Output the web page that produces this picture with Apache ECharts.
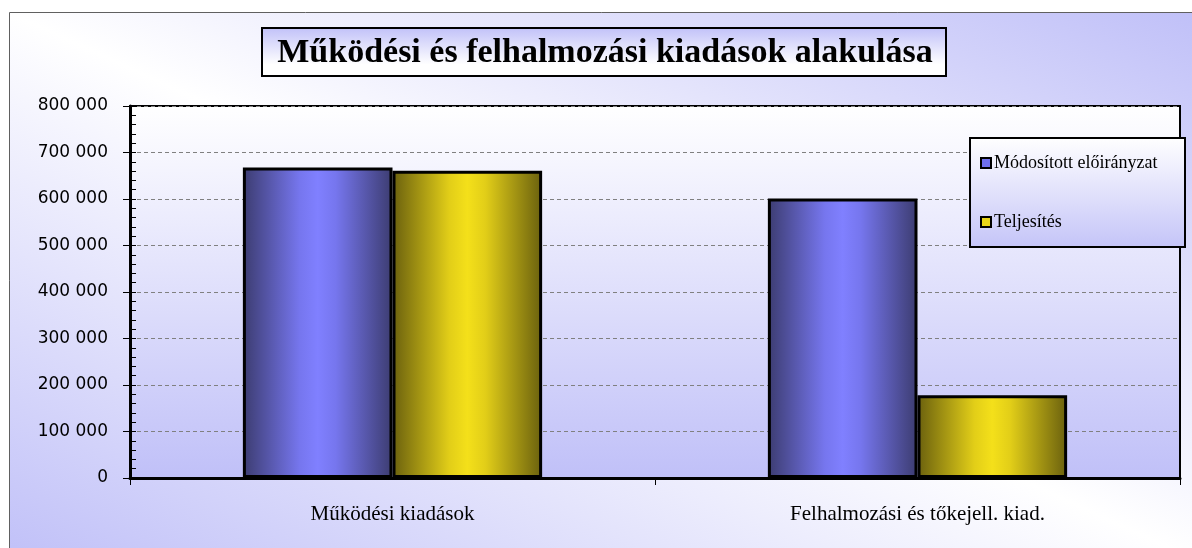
<!DOCTYPE html>
<html>
<head>
<meta charset="utf-8">
<script src="https://cdn.jsdelivr.net/npm/echarts@6/dist/echarts.min.js"></script>
<style>
html,body{margin:0;padding:0;background:#fff;}
#chart{width:1192px;height:548px;}
</style>
</head>
<body>
<div id="chart"></div>
<script>
const titleText = 'Működési és felhalmozási kiadások alakulása';
const categories = ['Működési kiadások', 'Felhalmozási és tőkejell. kiad.'];
const seriesNames = ['Módosított előirányzat', 'Teljesítés'];
const modositott = [668000, 601000];
const teljesites = [661000, 178000];
const yTicks = [0, 100000, 200000, 300000, 400000, 500000, 600000, 700000, 800000];

function grad(edge, mid, center) {
  return {
    type: 'linear', x: 0, y: 0, x2: 1, y2: 0,
    colorStops: [
      {offset: 0, color: edge},
      {offset: 0.38, color: mid},
      {offset: 0.5, color: center},
      {offset: 0.62, color: mid},
      {offset: 1, color: edge}
    ]
  };
}
const blueGrad = grad('#3c3c70', '#7676ee', '#8080ff');
const yellowGrad = grad('#6a600e', '#e2ce18', '#f4e01a');

const fmt = v => String(v).replace(/\B(?=(\d{3})+(?!\d))/g, ' ');

const chart = echarts.init(document.getElementById('chart'));
chart.setOption({
  animation: false,
  graphic: [
    {
      type: 'rect', z: -100, silent: true,
      shape: {x: 9.5, y: 12.5, width: 1195, height: 550},
      style: {
        fill: {type: 'linear', global: true, x: 813, y: -166, x2: 395, y2: 740,
          colorStops: [{offset: 0, color: '#c0c0f8'}, {offset: 0.5, color: '#ffffff'}, {offset: 1, color: '#c0c0f8'}]},
        stroke: '#606060', lineWidth: 1
      }
    },
    {
      type: 'rect', z: 10, silent: true,
      shape: {x: 262, y: 28, width: 684, height: 48},
      style: {
        fill: {type: 'linear', x: 0, y: 0, x2: 0, y2: 1,
          colorStops: [{offset: 0, color: '#c0c0f8'}, {offset: 0.75, color: '#ffffff'}, {offset: 1, color: '#ffffff'}]},
        stroke: '#000', lineWidth: 2
      }
    },
    {
      type: 'text', z: 11, silent: true,
      x: 605, y: 53,
      style: {
        text: titleText, fill: '#000',
        font: 'bold 34px "Liberation Serif", serif',
        textAlign: 'center', textVerticalAlign: 'middle'
      }
    },
    {
      type: 'rect', z: 3, silent: true,
      shape: {x: 970, y: 138, width: 215, height: 109},
      style: {
        fill: {type: 'linear', x: 0, y: 0, x2: 0, y2: 1,
          colorStops: [{offset: 0, color: '#ffffff'}, {offset: 1, color: '#c4c4f8'}]},
        stroke: '#000', lineWidth: 2
      }
    }
  ],
  legend: {
    orient: 'vertical', left: 980, top: 153, padding: 0,
    itemWidth: 10, itemHeight: 10, itemGap: 39, z: 5,
    icon: 'rect',
    textStyle: {fontFamily: '"Liberation Serif", serif', fontSize: 18, color: '#000', lineHeight: 20, padding: [0, 0, 0, -2]},
    data: [
      {name: seriesNames[0], itemStyle: {color: '#7070ee', borderColor: '#000', borderWidth: 2}},
      {name: seriesNames[1], itemStyle: {color: '#e8d418', borderColor: '#000', borderWidth: 2}}
    ]
  },
  grid: {
    left: 130, right: 12, top: 106, bottom: 70,
    show: true, borderColor: '#000', borderWidth: 2,
    backgroundColor: {type: 'linear', x: 0, y: 0, x2: 0, y2: 1,
      colorStops: [{offset: 0, color: '#ffffff'}, {offset: 1, color: '#c0c0f8'}]}
  },
  xAxis: {
    type: 'category', data: categories,
    axisLine: {lineStyle: {color: '#000', width: 3}},
    axisTick: {show: true, interval: 0, length: 7, lineStyle: {color: '#000', width: 1}},
    axisLabel: {fontFamily: '"Liberation Serif", serif', fontSize: 21, color: '#000', margin: 26, interval: 0}
  },
  yAxis: [
    {
      type: 'value', position: 'left', min: yTicks[0], max: yTicks[yTicks.length - 1], interval: yTicks[1] - yTicks[0],
      axisLine: {show: true, lineStyle: {color: '#000', width: 3}},
      axisTick: {show: true, length: 7, lineStyle: {color: '#000', width: 1}},
      axisLabel: {formatter: fmt, fontFamily: '"DejaVu Sans", sans-serif', fontSize: 17, color: '#000', margin: 22},
      splitLine: {show: true, lineStyle: {color: '#808080', type: [4, 3], width: 1}}
    },
    {
      type: 'value', position: 'left', offset: 0, min: yTicks[0], max: yTicks[yTicks.length - 1], interval: 20000,
      axisLine: {show: false},
      axisTick: {show: true, inside: true, length: 6, lineStyle: {color: '#000', width: 1}},
      axisLabel: {show: false},
      splitLine: {show: false}
    }
  ],
  series: [
    {
      name: seriesNames[0], type: 'bar', data: modositott, yAxisIndex: 0,
      barGap: '0%', barCategoryGap: '43%',
      itemStyle: {color: blueGrad, borderColor: '#000', borderWidth: 3}
    },
    {
      name: seriesNames[1], type: 'bar', data: teljesites, yAxisIndex: 0,
      barGap: '0%', barCategoryGap: '43%',
      itemStyle: {color: yellowGrad, borderColor: '#000', borderWidth: 3}
    }
  ]
});
</script>
</body>
</html>
